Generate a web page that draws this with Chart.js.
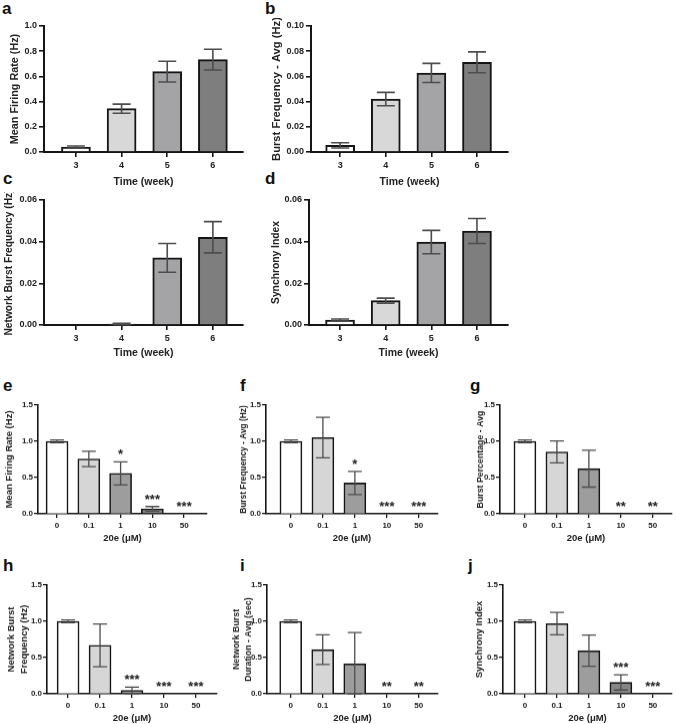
<!DOCTYPE html>
<html>
<head>
<meta charset="utf-8">
<title>MEA activity panels</title>
<style>
  html, body { margin: 0; padding: 0; background: #fff; }
  body { width: 676px; height: 724px; position: relative; overflow: hidden; font-family: "Liberation Sans", Arial, sans-serif; }
  .panel { position: absolute; }
  .tag { position: absolute; font-weight: bold; font-size: 17px; line-height: 17px; color: #111; }
</style>
</head>
<body>
<div class="tag" style="left:2px;top:0px">a</div>
<div class="tag" style="left:265px;top:0px">b</div>
<div class="tag" style="left:3px;top:170px">c</div>
<div class="tag" style="left:265px;top:170px">d</div>
<div class="tag" style="left:3px;top:377px">e</div>
<div class="tag" style="left:240px;top:377px">f</div>
<div class="tag" style="left:470px;top:377px">g</div>
<div class="tag" style="left:3px;top:557px">h</div>
<div class="tag" style="left:240px;top:557px">i</div>
<div class="tag" style="left:468px;top:557px">j</div>

<script src="https://cdn.jsdelivr.net/npm/chart.js@4"></script>
<script>
// categories
const weeks = ['3', '4', '5', '6'];
const doses = ['0', '0.1', '1', '10', '50'];

// a-d: development over weeks (mean, SEM)
const mfrWeek = [0.04, 0.344, 0.638, 0.733];
const mfrWeekErr = [0.008, 0.036, 0.082, 0.082];
const bfWeek = [0.0053, 0.042, 0.0627, 0.0712];
const bfWeekErr = [0.0021, 0.0053, 0.0076, 0.0083];
const nbfWeek = [0, 0.0005, 0.0322, 0.0421];
const nbfWeekErr = [0, 0.0003, 0.0069, 0.0075];
const siWeek = [0.0024, 0.0117, 0.0398, 0.0451];
const siWeekErr = [0.0005, 0.0012, 0.0056, 0.006];

// e-j: normalised to control, by 20e dose
const mfrDose = [1.0, 0.757, 0.558, 0.069, 0];
const mfrDoseErr = [0.02, 0.105, 0.16, 0.032, 0];
const mfrDoseSig = ['', '', '*', '***', '***'];
const bfDose = [1.0, 1.052, 0.425, 0, 0];
const bfDoseErr = [0.02, 0.28, 0.16, 0, 0];
const bfDoseSig = ['', '', '*', '***', '***'];
const bpDose = [1.0, 0.854, 0.623, 0, 0];
const bpDoseErr = [0.02, 0.15, 0.255, 0, 0];
const bpDoseSig = ['', '', '', '**', '**'];
const nbfDose = [1.0, 0.669, 0.046, 0, 0];
const nbfDoseErr = [0.02, 0.295, 0.045, 0, 0];
const nbfDoseSig = ['', '', '***', '***', '***'];
const nbdDose = [1.0, 0.609, 0.415, 0, 0];
const nbdDoseErr = [0.02, 0.205, 0.43, 0, 0];
const nbdDoseSig = ['', '', '', '**', '**'];
const siDose = [1.0, 0.969, 0.595, 0.157, 0];
const siDoseErr = [0.02, 0.155, 0.215, 0.105, 0];
const siDoseSig = ['', '', '', '***', '***'];

const weekFill = ['#ffffff', '#d8d8d8', '#a4a4a7', '#7e7e7e'];
const doseFill = ['#ffffff', '#d6d6d6', '#9d9d9d', '#868686', '#6e6e6e'];

Chart.defaults.font.family = '"Liberation Sans", Arial, sans-serif';
Chart.defaults.color = '#222';

// whiskers + significance stars, drawn over the bars
const errorBars = {
  id: 'errorBars',
  afterDatasetsDraw(chart) {
    const ds = chart.data.datasets[0];
    const y = chart.scales.y;
    const ctx = chart.ctx;
    ctx.save();
    chart.getDatasetMeta(0).data.forEach((bar, i) => {
      const v = ds.data[i].y, e = ds.errors[i];
      const top = y.getPixelForValue(v + e);
      if (e > 0) {
        const lo = y.getPixelForValue(Math.max(v - e, 0));
        const c = ds.cap / 2;
        ctx.strokeStyle = '#4d4d4d';
        ctx.lineWidth = ds.whisker;
        ctx.beginPath();
        ctx.moveTo(bar.x, top); ctx.lineTo(bar.x, lo);
        ctx.moveTo(bar.x - c, top); ctx.lineTo(bar.x + c, top);
        ctx.moveTo(bar.x - c, lo); ctx.lineTo(bar.x + c, lo);
        ctx.stroke();
      }
      const s = ds.sig && ds.sig[i];
      if (s) {
        ctx.fillStyle = '#222';
        ctx.font = 'bold 13px "Liberation Sans", Arial, sans-serif';
        ctx.textAlign = 'center';
        ctx.textBaseline = 'alphabetic';
        ctx.fillText(s, bar.x, top - 3);
      }
    });
    ctx.restore();
  }
};

const panels = [
  { cats: weeks, vals: mfrWeek, err: mfrWeekErr, ytitle: 'Mean Firing Rate (Hz)', ymax: 1.0, step: 0.2, dec: 1, xtitle: 'Time (week)', big: true,
    g: { left: 0, axis: 44, right: 243, top: 26, bottom: 152, xt: 182, yt: 15, ys: 10.8, xmin: -0.7, xmax: 3.66 } },
  { cats: weeks, vals: bfWeek, err: bfWeekErr, ytitle: 'Burst Frequency - Avg (Hz)', ymax: 0.10, step: 0.02, dec: 2, xtitle: 'Time (week)', big: true,
    g: { left: 265, axis: 311, right: 508, top: 26, bottom: 152, xt: 182, yt: 277, ys: 11.2, xmin: -0.64, xmax: 3.68 } },
  { cats: weeks, vals: nbfWeek, err: nbfWeekErr, ytitle: 'Network Burst Frequency (Hz)', ymax: 0.06, step: 0.02, dec: 2, xtitle: 'Time (week)', big: true,
    g: { left: 0, axis: 44, right: 243, top: 200, bottom: 325, xt: 353, yt: 9, ys: 10.2, xmin: -0.7, xmax: 3.66 } },
  { cats: weeks, vals: siWeek, err: siWeekErr, ytitle: 'Synchrony Index', ymax: 0.06, step: 0.02, dec: 2, xtitle: 'Time (week)', big: true,
    g: { left: 265, axis: 309, right: 508, top: 200, bottom: 325, xt: 353, yt: 276, ys: 10.3, xmin: -0.68, xmax: 3.68 } },
  { cats: doses, vals: mfrDose, err: mfrDoseErr, sig: mfrDoseSig, ytitle: 'Mean Firing Rate (Hz)', ymax: 1.5, step: 0.5, dec: 1, xtitle: '20e (μM)',
    g: { left: 0, axis: 38, right: 207, top: 405, bottom: 513, xt: 537, yt: 9.5, ys: 9.5, xmin: -0.6, xmax: 4.72 } },
  { cats: doses, vals: bfDose, err: bfDoseErr, sig: bfDoseSig, ytitle: 'Burst Frequency - Avg (Hz)', ymax: 1.5, step: 0.5, dec: 1, xtitle: '20e (μM)',
    g: { left: 225, axis: 266, right: 438, top: 405, bottom: 513, xt: 537, yt: 244, ys: 8.4, xmin: -0.78, xmax: 4.6 } },
  { cats: doses, vals: bpDose, err: bpDoseErr, sig: bpDoseSig, ytitle: 'Burst Percentage - Avg', ymax: 1.5, step: 0.5, dec: 1, xtitle: '20e (μM)',
    g: { left: 450, axis: 500, right: 672, top: 405, bottom: 513, xt: 537, yt: 481, ys: 8.8, xmin: -0.78, xmax: 4.6 } },
  { cats: doses, vals: nbfDose, err: nbfDoseErr, sig: nbfDoseSig, ytitle: ['Network Burst', 'Frequency (Hz)'], ymax: 1.5, step: 0.5, dec: 1, xtitle: '20e (μM)',
    g: { left: 0, axis: 47, right: 217, top: 585, bottom: 693, xt: 717, yt: 11.5, ys: 9.5, xmin: -0.66, xmax: 4.66 } },
  { cats: doses, vals: nbdDose, err: nbdDoseErr, sig: nbdDoseSig, ytitle: ['Network Burst', 'Duration - Avg (sec)'], ymax: 1.5, step: 0.5, dec: 1, xtitle: '20e (μM)',
    g: { left: 225, axis: 267, right: 438, top: 585, bottom: 693, xt: 717, yt: 236.5, ys: 8.8, xmin: -0.74, xmax: 4.6 } },
  { cats: doses, vals: siDose, err: siDoseErr, sig: siDoseSig, ytitle: 'Synchrony Index', ymax: 1.5, step: 0.5, dec: 1, xtitle: '20e (μM)',
    g: { left: 450, axis: 503, right: 672, top: 585, bottom: 693, xt: 717, yt: 479, ys: 9.5, xmin: -0.69, xmax: 4.6 } }
];

function build(p) {
  const g = p.g;
  const f = p.big
    ? { tick: 9, tickLen: 5, tickPad: 2, xtitle: 10.5, bar: 29, cap: 18, lw: 2, pad: 3 }
    : { tick: 8, tickLen: 4, tickPad: 1, xtitle: 9.5, bar: 22, cap: 14, lw: 1.6, pad: 3 };
  const ylh = p.big ? 12 : 12.5;
  const boxTop = g.top - 8;
  const boxBottom = g.xt + f.xtitle * 0.6;

  const div = document.createElement('div');
  div.className = 'panel';
  div.style.left = g.left + 'px';
  div.style.top = boxTop + 'px';
  div.style.width = (g.right + 6 - g.left) + 'px';
  div.style.height = (boxBottom - boxTop) + 'px';
  const cv = document.createElement('canvas');
  div.appendChild(cv);
  document.body.appendChild(div);

  new Chart(cv, {
    type: 'bar',
    data: {
      datasets: [{
        data: p.vals.map((v, i) => ({ x: i, y: v })),
        errors: p.err,
        sig: p.sig,
        cap: f.cap,
        whisker: p.big ? 1.6 : 1.3,
        backgroundColor: p.big ? weekFill : doseFill,
        borderColor: '#151515',
        borderWidth: f.lw,
        barThickness: f.bar
      }]
    },
    options: {
      responsive: true,
      maintainAspectRatio: false,
      animation: false,
      layout: { padding: { top: 8, right: 6, left: 0, bottom: 0 } },
      plugins: { legend: { display: false }, tooltip: { enabled: false } },
      scales: {
        x: {
          type: 'linear', min: g.xmin, max: g.xmax, offset: false,
          ticks: {
            stepSize: 1, includeBounds: false, autoSkip: false, maxRotation: 0, padding: f.pad,
            font: { size: f.tick, weight: 'bold' }, color: '#222',
            callback: v => p.cats[v] ?? ''
          },
          grid: { display: true, drawOnChartArea: false, drawTicks: true, tickLength: f.tickLen, color: '#151515', lineWidth: f.lw * 0.8, offset: false },
          border: { display: true, color: '#151515', width: f.lw },
          title: { display: true, text: p.xtitle, font: { size: f.xtitle, weight: 'bold' }, color: '#222', padding: { top: 0, bottom: 0 } },
          afterFit: s => { s.height = boxBottom - g.bottom; }
        },
        y: {
          min: 0, max: p.ymax,
          ticks: {
            stepSize: p.step, padding: f.tickPad,
            font: { size: f.tick, weight: 'bold' }, color: '#222',
            callback: v => v.toFixed(p.dec)
          },
          grid: { display: true, drawOnChartArea: false, drawTicks: true, tickLength: f.tickLen, color: '#151515', lineWidth: f.lw * 0.8 },
          border: { display: true, color: '#151515', width: f.lw },
          title: {
            display: true, text: p.ytitle, color: '#222',
            font: { size: g.ys, weight: 'bold', lineHeight: ylh / g.ys },
            padding: { top: g.yt - g.left - ylh / 2, bottom: 0 }
          },
          afterFit: s => { s.width = g.axis - g.left; }
        }
      }
    },
    plugins: [errorBars]
  });
}

panels.forEach(build);
</script>
</body>
</html>
